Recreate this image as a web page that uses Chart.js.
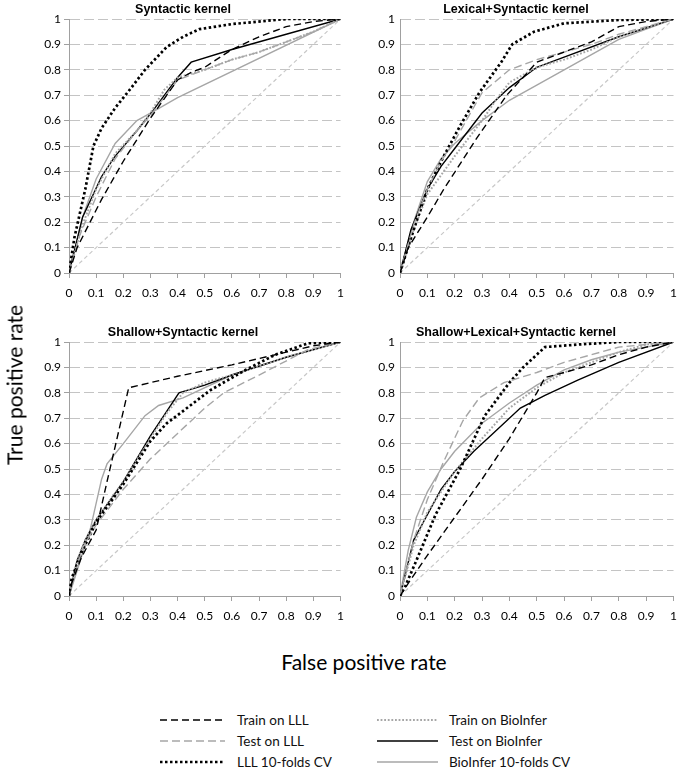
<!DOCTYPE html>
<html>
<head>
<meta charset="utf-8">
<script src="https://cdn.jsdelivr.net/npm/chart.js@4.4.1/dist/chart.umd.min.js"></script>
<style>
  body { margin: 0; background: #fff; }
  #page { position: relative; width: 685px; height: 770px; overflow: hidden; font-family: Lato, sans-serif; }
  canvas { position: absolute; }
  .axis-title { position: absolute; font-size: 21px; color: #000; white-space: nowrap; }
  #ylab { left: 14px; top: 385px; transform: translate(-50%, -50%) rotate(-90deg); }
  #xlab { left: 364px; top: 661px; transform: translate(-50%, -50%); }
  #legend { position: absolute; left: 0; top: 700px; }
  #legend text { font-family: Lato, sans-serif; font-size: 13.5px; fill: #111; }
</style>
</head>
<body>
<div id="page">
  <canvas id="c1" width="332" height="305" style="left:20px;top:0px"></canvas>
  <canvas id="c2" width="333" height="305" style="left:352px;top:0px"></canvas>
  <canvas id="c3" width="332" height="305" style="left:20px;top:323px"></canvas>
  <canvas id="c4" width="333" height="305" style="left:352px;top:323px"></canvas>
  <div class="axis-title" id="ylab">True positive rate</div>
  <div class="axis-title" id="xlab">False positive rate</div>
  <svg id="legend" width="685" height="70"></svg>
</div>
<script>
// panel titles, series names, axis ticks
const panelTitles = ['Syntactic kernel', 'Lexical+Syntactic kernel', 'Shallow+Syntactic kernel', 'Shallow+Lexical+Syntactic kernel'];
const seriesNames = ['Train on LLL', 'Test on LLL', 'LLL 10-folds CV', 'Train on BioInfer', 'Test on BioInfer', 'BioInfer 10-folds CV'];
const axisTicks = [0, 0.1, 0.2, 0.3, 0.4, 0.5, 0.6, 0.7, 0.8, 0.9, 1];
const diagonal = [[0, 0], [1, 1]];

// [false positive rate, true positive rate]
// Syntactic kernel
const synTrainLLL = [[0,0],[0.03,0.1],[0.12,0.29],[0.2,0.44],[0.3,0.61],[0.4,0.76],[0.45,0.79],[0.5,0.81],[0.6,0.88],[0.7,0.93],[0.8,0.97],[0.9,0.99],[1,1]];
const synTestLLL = [[0,0],[0.04,0.15],[0.1,0.3],[0.17,0.45],[0.25,0.56],[0.3,0.62],[0.4,0.76],[0.5,0.8],[0.6,0.84],[0.7,0.87],[0.8,0.91],[0.9,0.95],[1,1]];
const synCVLLL = [[0,0],[0.02,0.14],[0.06,0.33],[0.09,0.5],[0.12,0.57],[0.17,0.65],[0.23,0.73],[0.28,0.8],[0.36,0.89],[0.42,0.93],[0.48,0.96],[0.6,0.98],[0.8,1],[1,1]];
const synTrainBio = [[0,0],[0.05,0.19],[0.1,0.33],[0.17,0.47],[0.25,0.56],[0.3,0.63],[0.35,0.72],[0.4,0.77],[0.5,0.8],[0.6,0.84],[0.7,0.87],[0.8,0.91],[0.9,0.95],[1,1]];
const synTestBio = [[0,0],[0.05,0.22],[0.12,0.38],[0.17,0.46],[0.25,0.56],[0.31,0.64],[0.4,0.77],[0.45,0.83],[0.6,0.88],[0.8,0.94],[1,1]];
const synCVBio = [[0,0],[0.05,0.22],[0.1,0.37],[0.17,0.51],[0.25,0.6],[0.31,0.635],[0.4,0.69],[1,1]];

// Lexical+Syntactic kernel
const lexTrainLLL = [[0,0],[0.03,0.1],[0.1,0.22],[0.16,0.33],[0.28,0.53],[0.39,0.7],[0.45,0.77],[0.5,0.83],[0.6,0.87],[0.7,0.91],[0.8,0.97],[0.9,0.99],[1,1]];
const lexTestLLL = [[0,0],[0.05,0.19],[0.1,0.33],[0.15,0.44],[0.2,0.52],[0.3,0.71],[0.4,0.8],[0.5,0.84],[0.6,0.87],[0.7,0.9],[0.8,0.94],[0.9,0.97],[1,1]];
const lexCVLLL = [[0,0],[0.02,0.07],[0.05,0.17],[0.1,0.33],[0.16,0.46],[0.22,0.58],[0.29,0.71],[0.37,0.83],[0.41,0.9],[0.49,0.95],[0.6,0.983],[0.8,0.996],[1,1]];
const lexTrainBio = [[0,0],[0.05,0.17],[0.1,0.31],[0.2,0.46],[0.3,0.6],[0.35,0.68],[0.4,0.75],[0.45,0.78],[0.5,0.81],[0.6,0.84],[0.7,0.88],[0.8,0.93],[1,1]];
const lexTestBio = [[0,0],[0.04,0.17],[0.1,0.33],[0.15,0.42],[0.2,0.49],[0.3,0.63],[0.4,0.73],[0.5,0.81],[0.6,0.85],[0.8,0.93],[1,1]];
const lexCVBio = [[0,0],[0.05,0.2],[0.1,0.36],[0.15,0.45],[0.2,0.51],[0.3,0.6],[0.4,0.68],[0.5,0.74],[0.6,0.8],[0.7,0.86],[0.8,0.92],[0.9,0.96],[1,1]];

// Shallow+Syntactic kernel
const shTrainLLL = [[0,0],[0.01,0.05],[0.045,0.15],[0.1,0.26],[0.14,0.45],[0.22,0.82],[0.4,0.865],[0.6,0.91],[0.8,0.96],[0.9,0.985],[1,1]];
const shTestLLL = [[0,0],[0.05,0.19],[0.1,0.28],[0.2,0.42],[0.3,0.54],[0.4,0.64],[0.5,0.74],[0.57,0.8],[0.7,0.87],[0.88,0.97],[1,1]];
const shCVLLL = [[0,0],[0.01,0.07],[0.05,0.18],[0.1,0.29],[0.2,0.44],[0.3,0.61],[0.36,0.68],[0.41,0.72],[0.52,0.81],[0.65,0.89],[0.76,0.95],[0.88,0.995],[1,1]];
const shTrainBio = [[0,0],[0.03,0.14],[0.06,0.22],[0.1,0.3],[0.2,0.45],[0.3,0.62],[0.36,0.72],[0.42,0.8],[0.5,0.84],[0.6,0.87],[0.8,0.94],[1,1]];
const shTestBio = [[0,0],[0.03,0.14],[0.06,0.22],[0.1,0.3],[0.2,0.45],[0.3,0.63],[0.405,0.8],[0.5,0.83],[0.6,0.87],[0.8,0.94],[1,1]];
const shCVBio = [[0,0],[0.03,0.1],[0.08,0.27],[0.12,0.46],[0.14,0.52],[0.2,0.6],[0.28,0.71],[0.33,0.75],[0.42,0.78],[0.6,0.87],[0.8,0.94],[1,1]];

// Shallow+Lexical+Syntactic kernel
const slTrainLLL = [[0,0],[0.03,0.05],[0.1,0.16],[0.2,0.31],[0.3,0.46],[0.4,0.62],[0.5,0.8],[0.53,0.86],[0.6,0.88],[0.7,0.91],[0.8,0.95],[0.9,0.98],[1,1]];
const slTestLLL = [[0,0],[0.05,0.22],[0.1,0.38],[0.16,0.53],[0.23,0.69],[0.29,0.78],[0.38,0.84],[0.5,0.88],[0.6,0.92],[0.7,0.95],[0.8,0.98],[0.9,0.99],[1,1]];
const slCVLLL = [[0,0],[0.02,0.04],[0.06,0.14],[0.13,0.32],[0.22,0.5],[0.31,0.71],[0.4,0.84],[0.45,0.9],[0.53,0.98],[0.65,0.99],[0.8,1],[1,1]];
const slTrainBio = [[0,0],[0.05,0.2],[0.1,0.33],[0.2,0.49],[0.3,0.62],[0.4,0.74],[0.5,0.82],[0.6,0.88],[0.7,0.92],[0.8,0.96],[0.9,0.99],[1,1]];
const slTestBio = [[0,0],[0.05,0.22],[0.1,0.32],[0.15,0.42],[0.2,0.49],[0.27,0.57],[0.34,0.64],[0.44,0.74],[0.53,0.79],[0.65,0.85],[0.8,0.92],[1,1]];
const slCVBio = [[0,0],[0.03,0.18],[0.06,0.31],[0.1,0.41],[0.15,0.5],[0.2,0.57],[0.3,0.68],[0.4,0.76],[0.5,0.83],[0.6,0.89],[0.7,0.93],[0.8,0.96],[1,1]];

const GRAY = '#a6a6a6';
const lineStyles = [
    { color: '#000', width: 1.4, dash: [7, 4] },
    { color: GRAY, width: 1.4, dash: [8, 4] },
    { color: '#000', width: 2.7, dash: [2.5, 2.5] },
    { color: GRAY, width: 2, dash: [1.8, 1.8] },
    { color: '#000', width: 1.4, dash: [] },
    { color: GRAY, width: 1.4, dash: [] }
];

const panels = [
    { id: 'c1', title: panelTitles[0], series: [synTrainLLL, synTestLLL, synCVLLL, synTrainBio, synTestBio, synCVBio], left: true },
    { id: 'c2', title: panelTitles[1], series: [lexTrainLLL, lexTestLLL, lexCVLLL, lexTrainBio, lexTestBio, lexCVBio], left: false },
    { id: 'c3', title: panelTitles[2], series: [shTrainLLL, shTestLLL, shCVLLL, shTrainBio, shTestBio, shCVBio], left: true },
    { id: 'c4', title: panelTitles[3], series: [slTrainLLL, slTestLLL, slCVLLL, slTrainBio, slTestBio, slCVBio], left: false }
];

const toXY = pts => pts.map(p => ({ x: p[0], y: p[1] }));
const tickFont = { family: 'Lato', size: 12 };
const fixTicks = s => { s.ticks = axisTicks.map(v => ({ value: v })); };
const fmt = v => String(+Number(v).toFixed(1));

panels.forEach(function (p) {
    const datasets = p.series.map(function (pts, i) {
        const st = lineStyles[i];
        return {
            label: seriesNames[i],
            data: toXY(pts),
            showLine: true,
            pointRadius: 0,
            borderColor: st.color,
            borderWidth: st.width,
            borderDash: st.dash,
            fill: false,
            tension: 0,
            order: i
        };
    });
    datasets.push({
        label: 'diagonal',
        data: toXY(diagonal),
        showLine: true,
        pointRadius: 0,
        borderColor: '#c8c8c8',
        borderWidth: 1.2,
        borderDash: [4, 3],
        order: 10
    });

    new Chart(document.getElementById(p.id), {
        type: 'scatter',
        data: { datasets: datasets },
        options: {
            responsive: false,
            animation: false,
            events: [],
            layout: { padding: { left: 0, right: p.left ? 6 : 5, top: 0, bottom: 0 } },
            plugins: {
                legend: { display: false },
                tooltip: { enabled: false },
                title: {
                    display: true,
                    text: p.title,
                    color: '#000',
                    font: { family: 'Liberation Sans', size: 12.5, weight: 'bold' },
                    padding: { top: 2, bottom: 2 }
                }
            },
            scales: {
                x: {
                    type: 'linear',
                    min: 0,
                    max: 1,
                    afterBuildTicks: fixTicks,
                    afterFit: s => { s.height = 32; },
                    grid: { drawOnChartArea: false, drawTicks: true, tickLength: 5, color: '#a0a0a0' },
                    border: { color: '#a0a0a0' },
                    ticks: { padding: 8, color: '#000', font: tickFont, maxRotation: 0, autoSkip: false, callback: fmt }
                },
                y: {
                    type: 'linear',
                    min: 0,
                    max: 1,
                    afterBuildTicks: fixTicks,
                    afterFit: s => { s.width = p.left ? 49 : 48; },
                    grid: { color: '#c4c4c4', tickColor: '#a0a0a0', drawTicks: p.left, tickLength: 5 },
                    border: { color: '#a0a0a0', dash: [10, 4] },
                    ticks: { padding: p.left ? 3 : 5, color: '#000', font: tickFont, autoSkip: false, callback: fmt }
                }
            }
        }
    });
});

// legend: two columns of line samples
const legend = document.getElementById('legend');
const NS = 'http://www.w3.org/2000/svg';
const rowsY = [20, 41, 62];
seriesNames.forEach(function (name, i) {
    const col = Math.floor(i / 3);
    const y = rowsY[i % 3];
    const x1 = col === 0 ? 160 : 377;
    const x2 = col === 0 ? 225 : 438;
    const st = lineStyles[i];
    const line = document.createElementNS(NS, 'line');
    line.setAttribute('x1', x1);
    line.setAttribute('x2', x2);
    line.setAttribute('y1', y);
    line.setAttribute('y2', y);
    line.setAttribute('stroke', st.color);
    line.setAttribute('stroke-width', st.width);
    if (st.dash.length) line.setAttribute('stroke-dasharray', st.dash.join(' '));
    legend.appendChild(line);
    const t = document.createElementNS(NS, 'text');
    t.setAttribute('x', col === 0 ? 237 : 449);
    t.setAttribute('y', y);
    t.setAttribute('dominant-baseline', 'central');
    t.textContent = name;
    legend.appendChild(t);
});
</script>
</body>
</html>
